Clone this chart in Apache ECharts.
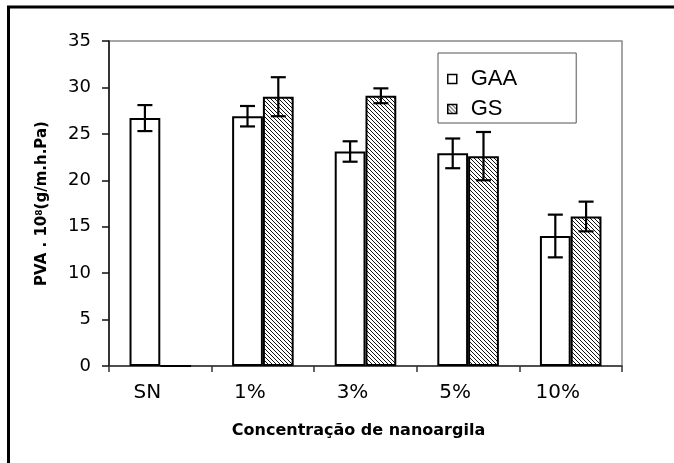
<!DOCTYPE html>
<html>
<head>
<meta charset="utf-8">
<script src="https://cdn.jsdelivr.net/npm/echarts@6/dist/echarts.min.js"></script>
<style>html,body{margin:0;padding:0;background:#fff}#c{width:674px;height:463px}</style>
</head>
<body>
<div id="c"></div>
<script>
var categories = ['SN', '1%', '3%', '5%', '10%'];
var gaaValues = [26.7, 26.9, 23.1, 22.9, 14.0];
var gsValues = [0, 29.0, 29.1, 22.6, 16.1];
var gaaErrors = [1.4, 1.1, 1.1, 1.6, 2.3];
var gsErrors = [0, 2.1, 0.8, 2.6, 1.6];
var yTicks = [0, 5, 10, 15, 20, 25, 30, 35];

var FONT = 'DejaVu Sans';

function hatch() {
  var c = document.createElement('canvas');
  c.width = 4; c.height = 4;
  var g = c.getContext('2d');
  g.fillStyle = '#fff'; g.fillRect(0, 0, 4, 4);
  g.strokeStyle = '#111'; g.lineWidth = 1.0;
  g.beginPath();
  g.moveTo(-1, -1); g.lineTo(5, 5);
  g.moveTo(-1, 3); g.lineTo(1, 5);
  g.moveTo(3, -1); g.lineTo(5, 1);
  g.stroke();
  return c;
}

function errData(vals, errs) {
  var out = [];
  for (var i = 0; i < vals.length; i++) {
    if (errs[i] > 0) out.push([i, vals[i] - errs[i], vals[i] + errs[i]]);
  }
  return out;
}

function errRender(sign) {
  return function (params, api) {
    var cat = api.value(0);
    var lo = api.coord([cat, api.value(1)]);
    var hi = api.coord([cat, api.value(2)]);
    var cw = api.size([1, 0])[0];
    var x = lo[0] + sign * cw * 0.15;
    var h = 7.5;
    var st = { stroke: '#000', lineWidth: 2.2 };
    return {
      type: 'group',
      children: [
        { type: 'line', shape: { x1: x, y1: lo[1], x2: x, y2: hi[1] }, style: st },
        { type: 'line', shape: { x1: x - h, y1: lo[1], x2: x + h, y2: lo[1] }, style: st },
        { type: 'line', shape: { x1: x - h, y1: hi[1], x2: x + h, y2: hi[1] }, style: st }
      ]
    };
  };
}

var chart = echarts.init(document.getElementById('c'), null, { renderer: 'canvas' });
var pattern = { image: hatch(), repeat: 'repeat' };

chart.setOption({
  animation: false,
  backgroundColor: '#fff',
  textStyle: { fontFamily: FONT },
  graphic: [{
    type: 'rect',
    shape: { x: 8.5, y: 7, width: 720, height: 520 },
    style: { fill: 'none', stroke: '#000', lineWidth: 3 },
    z: 100
  }],
  grid: {
    left: 109, top: 41, right: 52, bottom: 97,
    show: true, borderColor: '#888', borderWidth: 1.5, backgroundColor: 'transparent'
  },
  legend: {
    orient: 'vertical',
    left: 438, top: 53,
    padding: [15, 59, 3, 9],
    itemGap: 8,
    itemWidth: 9, itemHeight: 9,
    icon: 'rect',
    borderColor: '#555', borderWidth: 1,
    backgroundColor: '#fff',
    itemStyle: { borderWidth: 1.5, borderColor: '#000' },
    textStyle: { fontFamily: 'Liberation Sans', fontSize: 22, color: '#000', padding: [0, 0, 0, 9] },
    data: ['GAA', 'GS']
  },
  xAxis: {
    type: 'category',
    data: categories,
    boundaryGap: true,
    axisLine: { lineStyle: { color: '#333', width: 1.5 } },
    axisTick: { show: true, length: 6, lineStyle: { color: '#333', width: 1.5 } },
    axisLabel: { fontFamily: FONT, fontSize: 20, color: '#000', margin: 17, padding: [0, 26, 0, 0] },
    name: 'Concentração de nanoargila',
    nameLocation: 'middle',
    nameGap: 57,
    nameTextStyle: { fontFamily: FONT, fontSize: 16, fontWeight: 'bold', color: '#000', padding: [0, 14, 0, 0] }
  },
  yAxis: {
    type: 'value',
    min: yTicks[0], max: yTicks[yTicks.length - 1], interval: yTicks[1] - yTicks[0],
    splitLine: { show: false },
    axisLine: { show: true, lineStyle: { color: '#111', width: 1.5 } },
    axisTick: { show: true, length: 7, lineStyle: { color: '#111', width: 1.5 } },
    axisLabel: { fontFamily: FONT, fontSize: 18, color: '#000', margin: 18 },
    name: '{b|PVA . 10}{s|8}{b|(g/m.h.Pa)}',
    nameLocation: 'middle',
    nameRotate: 90,
    nameGap: 59,
    nameTextStyle: {
      rich: {
        b: { fontFamily: FONT, fontSize: 15, fontWeight: 'bold', color: '#000' },
        s: { fontFamily: FONT, fontSize: 9, fontWeight: 'bold', color: '#000', verticalAlign: 'top' }
      }
    }
  },
  series: [
    {
      name: 'GAA', type: 'bar', data: gaaValues,
      barGap: '0%', barCategoryGap: '40%',
      itemStyle: { color: '#fff', borderColor: '#000', borderWidth: 2 }
    },
    {
      name: 'GS', type: 'bar', data: gsValues,
      barGap: '0%', barCategoryGap: '40%',
      itemStyle: { color: pattern, borderColor: '#000', borderWidth: 2 }
    },
    {
      type: 'custom', name: 'GAA err', data: errData(gaaValues, gaaErrors),
      encode: { x: 0, y: [1, 2] }, renderItem: errRender(-1), z: 10
    },
    {
      type: 'custom', name: 'GS err', data: errData(gsValues, gsErrors),
      encode: { x: 0, y: [1, 2] }, renderItem: errRender(1), z: 10
    }
  ]
});
</script>
</body>
</html>
